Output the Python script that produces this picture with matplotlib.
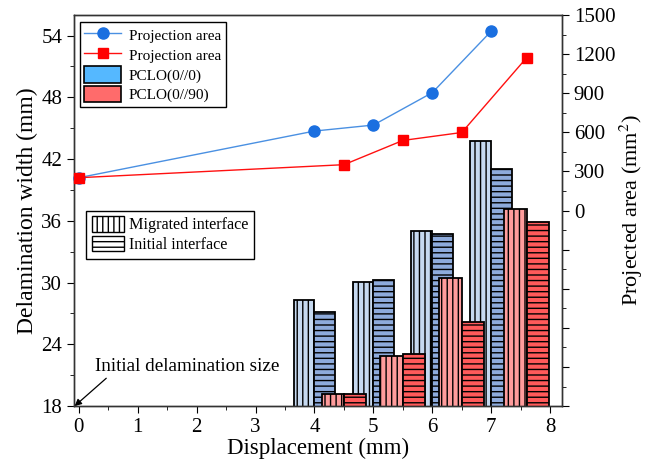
import numpy as np
import matplotlib.pyplot as plt
from matplotlib.patches import Patch
from matplotlib.lines import Line2D

plt.rcParams['font.family'] = ['Liberation Serif', 'DejaVu Serif']
plt.rcParams['mathtext.fontset'] = 'stix'
plt.rcParams['hatch.linewidth'] = 1.0

# delamination width (left axis), bars
disp_00 = [4, 5, 6, 7]
mig_00 = [28.3, 30.1, 35.0, 43.8]
ini_00 = [27.1, 30.3, 34.7, 41.0]
disp_090 = [4.5, 5.5, 6.5, 7.6]
mig_090 = [19.2, 22.9, 30.4, 37.2]
ini_090 = [19.2, 23.1, 26.2, 35.9]

# projected area (right axis), lines
area_x_00 = [0, 4, 5, 6, 7]
area_00 = [252, 610, 656, 905, 1377]
area_x_090 = [0, 4.5, 5.5, 6.5, 7.6]
area_090 = [252, 352, 538, 599, 1173]

fig = plt.figure(figsize=(6.46, 4.70), dpi=100)
ax = fig.add_axes([0.1146, 0.136, 0.7554, 0.832])
ax2 = ax.twinx()

w0 = 0.355
w1 = 0.38
x0 = np.array(disp_00)
x1 = np.array(disp_090)
ax.bar(x0 - w0 / 2, mig_00, w0, color='#c6d9f0', edgecolor='black', hatch='|||', lw=1.3)
ax.bar(x0 + w0 / 2, ini_00, w0, color='#8eabdc', edgecolor='black', hatch='---', lw=1.3)
ax.bar(x1 - w1 / 2, mig_090, w1, color='#ff9c9c', edgecolor='black', hatch='|||', lw=1.3)
ax.bar(x1 + w1 / 2, ini_090, w1, color='#ff5a5a', edgecolor='black', hatch='---', lw=1.3)

ax.set_xlim(-0.08, 8.2)
ax.set_ylim(18, 56)
ax.set_xticks(range(0, 9))
ax.set_xticks(np.arange(0.5, 8, 1), minor=True)
ax.set_yticks(range(18, 55, 6))
ax.set_yticks(range(21, 56, 6), minor=True)
ax.tick_params(which='both', direction='out', labelsize=15, top=False, right=False)
ax.tick_params(which='major', length=5)
ax.tick_params(which='minor', length=3)
ax.set_xlabel('Displacement (mm)', fontsize=16.5, labelpad=1)
ax.set_ylabel('Delamination width (mm)', fontsize=17, labelpad=2)

ax2.plot(area_x_00, area_00, '-o', color='#4a90e2', lw=1, ms=8,
         mfc='#1a6fe0', mec='#1a6fe0', clip_on=False, zorder=5)
ax2.plot(area_x_090, area_090, '-s', color='#ff1010', lw=1, ms=7.5,
         mfc='#ff0000', mec='#ff0000', clip_on=False, zorder=5)
ax2.set_ylim(-1500, 1500)
ax2.set_yticks(np.arange(-1500, 1501, 300))
ax2.set_yticklabels(['' if v < 0 else str(v) for v in np.arange(-1500, 1501, 300)])
ax2.set_yticks(np.arange(-1350, 1500, 300), minor=True)
ax2.tick_params(which='both', direction='out', labelsize=15)
ax2.tick_params(which='major', length=5)
ax2.tick_params(which='minor', length=3)
ax2.set_ylabel('Projected area (mm$^2$)', fontsize=16, labelpad=2)

for a in (ax, ax2):
    for s in a.spines.values():
        s.set_linewidth(1.0)
        s.set_color('#333333')

h1 = [
    Line2D([], [], color='#4a90e2', lw=1, marker='o', ms=8, mfc='#1a6fe0', mec='#1a6fe0'),
    Line2D([], [], color='#ff1010', lw=1, marker='s', ms=7.5, mfc='#ff0000', mec='#ff0000'),
    Patch(facecolor='#55b8ff', edgecolor='black', lw=1.2),
    Patch(facecolor='#ff6b6b', edgecolor='black', lw=1.2),
]
leg1 = ax2.legend(h1, ['Projection area', 'Projection area', 'PCLO(0//0)', 'PCLO(0//90)'],
                  loc='upper left', bbox_to_anchor=(0.012, 0.982), borderaxespad=0,
                  fontsize=11, handlelength=2.4, handleheight=1.3, handletextpad=0.5,
                  labelspacing=0.2, borderpad=0.3, fancybox=False, framealpha=1)
leg1.get_frame().set_edgecolor('black')
leg1.get_frame().set_linewidth(1.0)
ax2.add_artist(leg1)

h2 = [
    Patch(facecolor='white', edgecolor='black', hatch='|||', lw=1.0),
    Patch(facecolor='white', edgecolor='black', hatch='---', lw=1.0),
]
leg2 = ax2.legend(h2, ['Migrated interface', 'Initial interface'],
                  loc='upper left', bbox_to_anchor=(0.025, 0.5), borderaxespad=0,
                  fontsize=11.6, handlelength=2.0, handleheight=1.1, handletextpad=0.3,
                  labelspacing=0.15, borderpad=0.35, fancybox=False, framealpha=1)
leg2.get_frame().set_edgecolor('black')
leg2.get_frame().set_linewidth(1.0)

ax.annotate('Initial delamination size', xy=(-0.07, 18), xytext=(0.27, 21.8),
            fontsize=13.8, va='center', ha='left',
            arrowprops=dict(arrowstyle='-|>', color='black', lw=0.9,
                            shrinkA=0, shrinkB=0, mutation_scale=10,
                            relpos=(0.08, 0.0)))

fig.savefig('out.png', dpi=100)
